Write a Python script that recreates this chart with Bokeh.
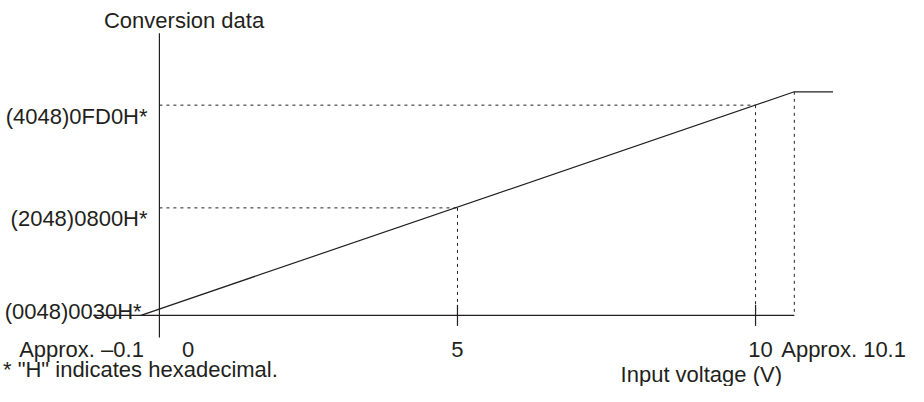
from bokeh.plotting import figure
from bokeh.models import Range1d, ColumnDataSource
from bokeh.core.properties import value
from bokeh.embed import file_html
from bokeh.resources import INLINE

# ---------------- data ----------------
x_ticks = [0, 5, 10]
x_tick_labels = ["0", "5", "10"]
code_levels = [48, 2048, 4048]
code_labels = ["(0048)0030H*", "(2048)0800H*", "(4048)0FD0H*"]
# schematic conversion curve (as drawn): start at approx -0.1 V, saturate after approx 10.1 V
line_v = [-0.31, 10.65, 11.3]
line_code = [-45, 4308, 4308]
low_label = "Approx. \u20130.1"
high_label = "Approx. 10.1"
x_title = "Input voltage (V)"
y_title = "Conversion data"
note = '* "H" indicates hexadecimal.'

# ---------------- layout ----------------
W, H = 908, 386
X_LEFT, Y_TOP = 6, 6    # drawing-pixel at the canvas' top-left corner
SX, SY = 0.987, 0.96    # canvas pixels per drawing pixel
PXV = 1 / 60.4          # volts per drawing pixel
PXC = 18.69             # codes per drawing pixel
IMG_X0 = 167.0          # drawing pixel of 0 V
IMG_Y0 = 331.6          # drawing pixel of code 0


def cx(px):
    return (px - IMG_X0) * PXV


def cy(py):
    return (IMG_Y0 - py) * PXC


x_range = Range1d(cx(X_LEFT), cx(X_LEFT + W / SX))
y_range = Range1d(cy(Y_TOP + H / SY), cy(Y_TOP))

p = figure(width=W, height=H, x_range=x_range, y_range=y_range,
           output_backend="svg", toolbar_location=None,
           x_axis_location=None, y_axis_location=None, min_border=0)
p.grid.visible = False
p.outline_line_color = None
p.background_fill_color = "white"
p.border_fill_color = "white"

INK = "#231f20"
axis_y = cy(334)

# axes
p.segment(x0=[cx(100)], y0=[axis_y], x1=[line_v[1]], y1=[axis_y], line_color=INK, line_width=1.2)
p.segment(x0=[0], y0=[cy(357)], x1=[0], y1=[cy(40)], line_color=INK, line_width=1.2)
# x ticks
p.segment(x0=x_ticks[1:], y0=[cy(323)] * 2, x1=x_ticks[1:], y1=[cy(345)] * 2,
          line_color=INK, line_width=1.2)

# dotted guides
p.segment(x0=[0, 0], y0=code_levels[1:], x1=x_ticks[1:], y1=code_levels[1:],
          line_color=INK, line_width=1, line_dash="3 4")
p.segment(x0=x_ticks[1:] + [line_v[1]], y0=code_levels[1:] + [line_code[1]],
          x1=x_ticks[1:] + [line_v[1]], y1=[axis_y] * 3,
          line_color=INK, line_width=1, line_dash="3 4")

# conversion line
p.line(line_v, line_code, line_color=INK, line_width=1.2)

FONT = value("Liberation Sans")
FS = "22px"

# y labels
ysrc = ColumnDataSource(dict(
    x=[0 + o * PXV for o in [-18, -12, -12]],
    y=[lv - d * PXC for lv, d in zip(code_levels, [1, 11, 12])],
    t=code_labels))
p.text(x="x", y="y", text="t", source=ysrc, text_font=FONT, text_font_size=FS,
       text_color=INK, text_align="right", text_baseline="alphabetic")

# x tick labels
xsrc = ColumnDataSource(dict(
    x=[t + o * PXV for t, o in zip(x_ticks, [29, 0, 5])],
    y=[cy(370)] * 3,
    t=x_tick_labels))
p.text(x="x", y="y", text="t", source=xsrc, text_font=FONT, text_font_size=FS,
       text_color=INK, text_align="center", text_baseline="alphabetic")

# other texts
p.text(x=[line_v[0] + 3 * PXV], y=[cy(370)], text=[low_label], text_font=FONT,
       text_font_size=FS, text_color=INK, text_align="right", text_baseline="alphabetic")
p.text(x=[cx(797)], y=[cy(370)], text=[high_label], text_font=FONT,
       text_font_size=FS, text_color=INK, text_align="left", text_baseline="alphabetic")
p.text(x=[cx(192)], y=[cy(27)], text=[y_title], text_font=FONT,
       text_font_size=FS, text_color=INK, text_align="center", text_baseline="alphabetic")
p.text(x=[cx(716)], y=[cy(396)], text=[x_title], text_font=FONT,
       text_font_size=FS, text_color=INK, text_align="center", text_baseline="alphabetic")
p.text(x=[cx(8.5)], y=[cy(390)], text=[note], text_font=FONT,
       text_font_size=FS, text_color=INK, text_align="left", text_baseline="alphabetic")

open("out.html", "w").write(file_html(p, INLINE))
